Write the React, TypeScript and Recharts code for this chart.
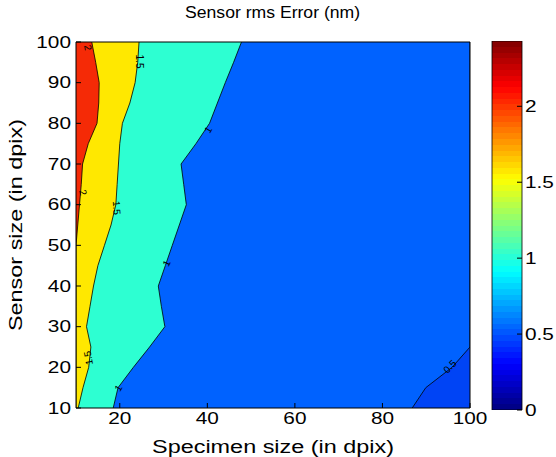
import { ComposedChart, BarChart, Bar, Area, XAxis, YAxis, CartesianGrid, ReferenceDot } from 'recharts'

// sensor size rows (y) and the specimen size (x) where each contour level crosses that row
const sensorSizes = [10, 15, 20, 25, 30, 35, 40, 45, 50, 55, 60, 65, 70, 75, 80, 85, 90, 95, 100]
const level2 = [10, 10, 10, 10, 10, 10, 10, 10, 10, 10.4, 10.8, 11.2, 11.5, 12.8, 14.8, 15.2, 15.3, 14.5, 13.6]
const level15 = [10.5, 11.6, 12.9, 13.4, 12.4, 13.2, 14.0, 15.0, 16.5, 18.0, 19.1, 19.4, 19.7, 20.0, 20.6, 22.3, 23.5, 24.1, 24.4]
const level1 = [18.5, 19.6, 23.1, 26.8, 30.3, 29.5, 28.8, 30.4, 32.0, 33.6, 35.2, 34.6, 34.0, 37.4, 40.5, 42.3, 44.1, 46.0, 47.8]
const level05 = [86.8, 89.9, 95.9, 100, 100, 100, 100, 100, 100, 100, 100, 100, 100, 100, 100, 100, 100, 100, 100]

const xTicks = [20, 40, 60, 80, 100]
const yTicks = [10, 20, 30, 40, 50, 60, 70, 80, 90, 100]
const barTicks = [0, 0.5, 1, 1.5, 2]
const barMax = 2.43

const contourLabels = [
  { x: 12.7, y: 98.6, text: '2', angle: 80 },
  { x: 11.6, y: 63.0, text: '2', angle: 75 },
  { x: 24.5, y: 95.2, text: '1.5', angle: 90 },
  { x: 19.3, y: 59.2, text: '1.5', angle: 85 },
  { x: 12.8, y: 22.3, text: '1.5', angle: -100 },
  { x: 40.2, y: 78.4, text: '1', angle: -60 },
  { x: 30.7, y: 45.6, text: '1', angle: -65 },
  { x: 19.7, y: 14.9, text: '1', angle: -60 },
  { x: 95.4, y: 20.2, text: '0.5', angle: -45 },
]

const data = sensorSizes.map((y, i) => ({
  y,
  c2: level2[i],
  c15: level15[i],
  c1: level1[i],
  c05: level05[i],
}))

const barData = [{ name: 'rms', v: barMax }]

const FONT = '"Liberation Sans", Arial, Helvetica, sans-serif'
const WIDE = 1.3 // the reference text is drawn wide

// stepped jet colormap for the colour bar
function jet(t: number) {
  const c = (v: number) => Math.round(255 * Math.max(0, Math.min(1, v)))
  return `rgb(${c(1.5 - Math.abs(4 * t - 3))},${c(1.5 - Math.abs(4 * t - 2))},${c(1.5 - Math.abs(4 * t - 1))})`
}
const jetStops: { offset: number; color: string }[] = []
for (let i = 0; i < 64; i++) {
  const col = jet((i + 0.5) / 64)
  jetStops.push({ offset: i / 64, color: col }, { offset: (i + 1) / 64, color: col })
}

function WideTick(props: any) {
  const { x, y, payload, anchor, dy } = props
  return (
    <text transform={`translate(${x},${y}) scale(${WIDE},1)`} textAnchor={anchor} dy={dy}
      fontSize={16} fontFamily={FONT} fill="#000">
      {payload.value}
    </text>
  )
}

export default function App() {
  return (
    <div style={{ position: 'absolute', left: 0, top: 0, width: 556, height: 457, background: '#fff', fontFamily: FONT }}>
      <div style={{ position: 'absolute', left: 76, width: 394, top: 3, textAlign: 'center', fontSize: 16, lineHeight: '20px' }}>
        <span style={{ display: 'inline-block', transform: 'scaleX(1.1)' }}>Sensor rms Error (nm)</span>
      </div>
      <div style={{ position: 'absolute', left: 76, width: 394, top: 437, textAlign: 'center', fontSize: 18, lineHeight: '20px' }}>
        <span style={{ display: 'inline-block', transform: `scaleX(${WIDE})` }}>Specimen size (in dpix)</span>
      </div>
      <div
        style={{
          position: 'absolute', left: 16, top: 225, width: 300, marginLeft: -150, marginTop: -10,
          textAlign: 'center', fontSize: 18, transform: `rotate(-90deg) scaleX(${WIDE})`, lineHeight: '20px',
        }}
      >
        Sensor size (in dpix)
      </div>

      <div style={{ position: 'absolute', left: 0, top: 0 }}>
        <ComposedChart layout="vertical" width={556} height={457} data={data}
          margin={{ top: 41, right: 85, bottom: 19, left: 36 }}>
          <CartesianGrid horizontal={false} vertical={false} fill="#0062ff" />
          <Area dataKey="c05" baseValue="dataMax" type="linear" fill="#0044f5" fillOpacity={1}
            stroke="#000" strokeWidth={0.8} isAnimationActive={false} />
          <Area dataKey="c1" type="linear" fill="#2dffd2" fillOpacity={1}
            stroke="#000" strokeWidth={0.8} isAnimationActive={false} />
          <Area dataKey="c15" type="linear" fill="#ffe800" fillOpacity={1}
            stroke="#000" strokeWidth={0.8} isAnimationActive={false} />
          <Area dataKey="c2" type="linear" fill="#f52a06" fillOpacity={1}
            stroke="#000" strokeWidth={0.8} isAnimationActive={false} />
          {contourLabels.map((l, i) => (
            <ReferenceDot key={i} x={l.x} y={l.y} r={0} ifOverflow="visible"
              shape={(p: any) => (
                <text x={p.cx} y={p.cy} fontSize={10} fontFamily={FONT} textAnchor="middle"
                  dominantBaseline="central" transform={`rotate(${l.angle} ${p.cx} ${p.cy})`}>
                  {l.text}
                </text>
              )} />
          ))}
          <XAxis type="number" domain={[10, 100]} ticks={xTicks} allowDataOverflow height={30}
            tickSize={-5} tickMargin={10} tick={<WideTick anchor="middle" dy="0.71em" />} stroke="#000" />
          <XAxis xAxisId="top" orientation="top" type="number" domain={[10, 100]} ticks={[20, 40, 60, 80]}
            allowDataOverflow height={1} tickSize={-5} tick={false} stroke="#000" />
          <YAxis type="number" dataKey="y" domain={[10, 100]} ticks={yTicks} allowDataOverflow width={40}
            reversed tickSize={-5} tickMargin={10} tick={<WideTick anchor="end" dy="0.355em" />} stroke="#000" />
          <YAxis yAxisId="right" orientation="right" type="number" domain={[10, 100]} ticks={yTicks}
            allowDataOverflow width={1} tickSize={-5} tick={false} stroke="#000" />
        </ComposedChart>
      </div>

      <div style={{ position: 'absolute', left: 0, top: 0 }}>
        <BarChart width={556} height={457} data={barData} barCategoryGap={0}
          margin={{ top: 41, right: 4, bottom: 47, left: 492 }}>
          <defs>
            <linearGradient id="jet" x1="0" y1="1" x2="0" y2="0">
              {jetStops.map((s, i) => (
                <stop key={i} offset={s.offset} stopColor={s.color} />
              ))}
            </linearGradient>
          </defs>
          <XAxis dataKey="name" hide />
          <Bar dataKey="v" fill="url(#jet)" stroke="#000" strokeWidth={0.8} isAnimationActive={false} />
          <YAxis orientation="right" type="number" domain={[0, barMax]} ticks={barTicks}
            allowDataOverflow width={30} tickSize={-5} tickMargin={8}
            tick={<WideTick anchor="start" dy="0.355em" />} stroke="#000" axisLine={false} />
        </BarChart>
      </div>
    </div>
  )
}
